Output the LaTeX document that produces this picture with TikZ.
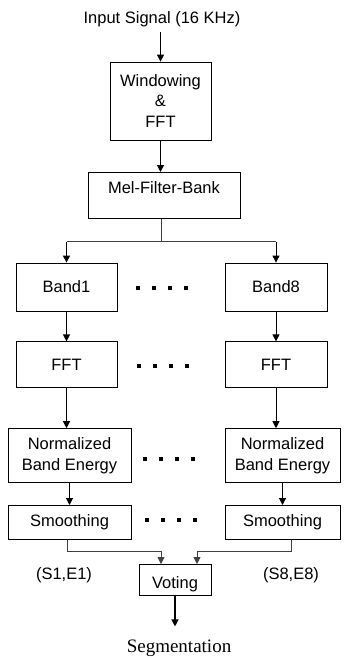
\documentclass[tikz,border=0pt]{standalone}
\usepackage{fontspec}
\setmainfont{Liberation Sans}
\newfontfamily\serifface{Liberation Serif}
\usepackage{tikz}
\usetikzlibrary{positioning,arrows.meta}

\begin{document}
\begin{tikzpicture}[
  x=1pt, y=1pt,
  font=\fontsize{16.5}{20.5}\selectfont,
  box/.style={draw, line width=0.8pt, align=center, inner sep=0pt},
  arr/.style={-{Triangle[length=7pt, width=7pt]}, line width=1.2pt},
  wire/.style={line width=0.8pt, black!75},
  lab/.style={inner sep=0pt}
]
  \useasboundingbox (0,0) rectangle (344,-658);

  \node[lab, inner ysep=5pt] (in) at (162,-19) {Input Signal (16 KHz)};
  \node[box, minimum width=101pt, minimum height=78pt] (win) at (160.5,-101)
    {Windowing\\\&\\FFT};
  \node[box, anchor=north, minimum width=152pt, inner ysep=3pt,
        text height=18pt, text depth=22pt] (mel) at (164,-172) {Mel-Filter-Bank};

  % the eight band chains, only first and last drawn
  \node[box, minimum width=101pt, minimum height=48pt] (band1) at (66.5,-287) {Band1};
  \node[box, minimum width=102pt, minimum height=48pt] (band8) at (276,-287) {Band8};
  \node[box, minimum width=101pt, minimum height=46pt, below=30pt of band1] (fft1) {FFT};
  \node[box, minimum width=102pt, minimum height=46pt, below=30pt of band8] (fft8) {FFT};
  \node[box, minimum width=123pt, minimum height=54pt, below=40pt of fft1, xshift=3pt] (norm1)
    {Normalized\\Band Energy};
  \node[box, minimum width=115pt, minimum height=54pt, below=40pt of fft8, xshift=6.5pt] (norm8)
    {Normalized\\Band Energy};
  \node[box, minimum width=123pt, minimum height=34pt, below=22pt of norm1] (sm1) {Smoothing};
  \node[box, minimum width=115pt, minimum height=34pt, below=22pt of norm8] (sm8) {Smoothing};

  \node[box, anchor=north, minimum width=72pt, inner ysep=3pt,
        text height=21pt, text depth=4pt] (vote) at (175,-564) {Voting};
  \node[lab] (se1) at (64,-575) {(S1,E1)};
  \node[lab] (se8) at (291,-575) {(S8,E8)};
  \node[lab, inner ysep=13pt, font=\serifface\fontsize{19}{22}\selectfont] (seg) at (179,-648)
    {Segmentation};

  \foreach \x/\y in {138/288, 139/366, 145/459, 147/520}
    \foreach \i in {0,...,3}
      \fill (\x+16*\i-2,-\y-2) rectangle ++(4,4);

  \draw[arr] (win.north |- in.south) -- (win.north);
  \draw[arr] (win.south) -- (win.south |- mel.north);

  \coordinate (split) at ([xshift=-3pt, yshift=-23pt]mel.south);
  \draw[wire] ([xshift=-3pt]mel.south) -- (split);
  \draw[wire] (split -| band1.north) -- (split -| band8.north);
  \draw[arr] (split -| band1.north) -- (band1.north);
  \draw[arr, line width=0.9pt] (split -| band8.north) -- (band8.north);

  \draw[arr] (band1) -- (fft1);
  \draw[arr] (fft1.south) -- (fft1.south |- norm1.north);
  \draw[arr] (norm1) -- (sm1);
  \draw[arr, line width=0.9pt] (band8) -- (fft8);
  \draw[arr, line width=0.9pt] (fft8.south) -- (fft8.south |- norm8.north);
  \draw[arr] (norm8) -- (sm8);

  \draw[arr, wire] ([xshift=-2.5pt]sm1.south) -- ++(0,-12) -| ([xshift=-14pt]vote.north);
  \draw[arr, wire] ([xshift=8.5pt]sm8.south) -- ++(0,-12) -| ([xshift=22pt]vote.north);
  \draw[arr] (vote.south) -- (vote.south |- seg.north);
\end{tikzpicture}
\end{document}
